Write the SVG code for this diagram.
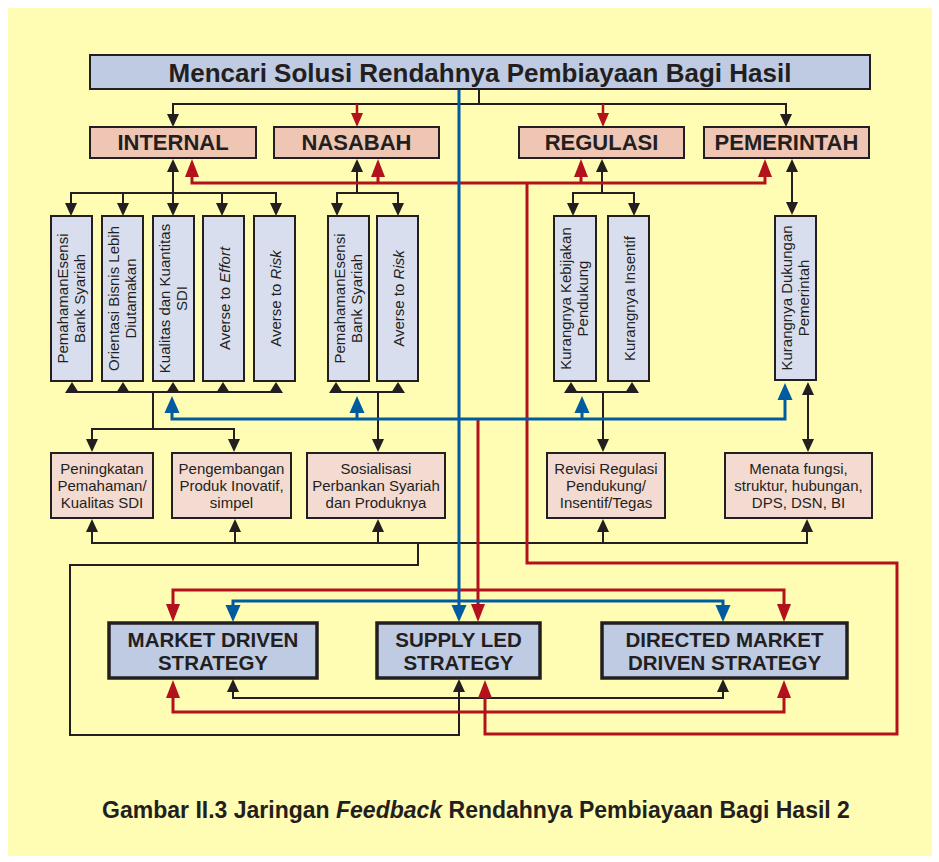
<svg xmlns="http://www.w3.org/2000/svg" xmlns:xlink="http://www.w3.org/1999/xlink" width="939" height="862" viewBox="0 0 939 862">
<style>
.bg{fill:#FFFDB3}
.box{stroke:#231F20;stroke-width:2}
.tb{fill:#BFCBE3}
.hb{fill:#EFC6B4}
.vb{fill:#D9DEEE}
.lb{fill:#F3DBD2}
.sb{fill:#BFCBE3;stroke:#231F20;stroke-width:3.5}
text{font-family:"Liberation Sans",Arial,sans-serif;fill:#231F20}
.t1{font-size:26px;font-weight:bold;text-anchor:middle}
.hd{font-size:22px;font-weight:bold;text-anchor:middle}
.vt{font-size:15px;text-anchor:middle}
.lt{font-size:15px;text-anchor:middle}
.st{font-size:20.5px;font-weight:bold;text-anchor:middle}
.cap{font-size:23px;font-weight:bold;text-anchor:middle}
.ck{fill:none;stroke:#231F20;stroke-width:2}
.cr{fill:none;stroke:#B3121C;stroke-width:3}
.cb{fill:none;stroke:#005BA1;stroke-width:3}
.fk{fill:#231F20}
.fr{fill:#B3121C}
.fb{fill:#005BA1}
</style>
<defs>
<path id="ak" d="M0,0 L-6,-13 L6,-13 Z"/>
<path id="aks" d="M0,0 L-7,-11 L7,-11 Z"/>
<path id="ar" d="M0,0 L-7,-18 L7,-18 Z"/>
<path id="ars" d="M0,0 L-6,-14 L6,-14 Z"/>
<path id="ab" d="M0,0 L-7.5,-17 L7.5,-17 Z"/>
</defs>
<rect class="bg" x="8" y="8" width="924" height="848"/>

<g id="connectors">
<g id="black-lines">
<path class="ck" d="M479,89 V104"/>
<path class="ck" d="M173,115 V104 H786 V115"/>
<path class="ck" d="M173,171 V204"/>
<path class="ck" d="M71,204 V193 H276 V204 M123,193 V204 M222,193 V204"/>
<path class="ck" d="M357,171 V193 M337,204 V193 H398 V204"/>
<path class="ck" d="M602,171 V193 M573,204 V193 H634 V204"/>
<path class="ck" d="M792,171 V203"/>
<path class="ck" d="M72,392 H276 M153,392 V429 M92,440 V429 H234 V440"/>
<path class="ck" d="M336,392 H398 M378,392 V440"/>
<path class="ck" d="M571,392 H632 M603,392 V440"/>
<path class="ck" d="M808,394 V440"/>
<path class="ck" d="M92,531 V543 H807 V531 M235,543 V531 M378,543 V531 M603,543 V531"/>
<path class="ck" d="M418,543 V565 H70 V735 H459 V692"/>
<path class="ck" d="M233,692 V698 H723 V692"/>
</g>
<g id="red-lines">
<path class="cr" d="M357,104 V114 M603,104 V114" style="stroke-width:2.5"/>
<path class="cr" d="M192,176 V183 H765 V176 M378,183 V176 M581,183 V176"/>
<path class="cr" d="M527,183 V563 H897 V734 H485 V697"/>
<path class="cr" d="M478,419 V605 M173,605 V590 H784 V605"/>
<path class="cr" d="M173,697 V712 H784 V697"/>
</g>
<g id="blue-lines">
<path class="cb" d="M459,89 V606"/>
<path class="cb" d="M172,412 V419 H785 V399 M357,419 V412 M582,419 V412"/>
<path class="cb" d="M233,606 V601 H723 V606"/>
</g>
<g id="arrowheads">
<use href="#ak" class="fk" transform="translate(173,127)"/>
<use href="#ak" class="fk" transform="translate(786,127)"/>
<use href="#ars" class="fr" transform="translate(357,127)"/>
<use href="#ars" class="fr" transform="translate(603,127)"/>
<use href="#ak" class="fk" transform="translate(173,159) rotate(180)"/>
<use href="#ak" class="fk" transform="translate(357,159) rotate(180)"/>
<use href="#ak" class="fk" transform="translate(602,159) rotate(180)"/>
<use href="#ak" class="fk" transform="translate(792,159) rotate(180)"/>
<use href="#ar" class="fr" transform="translate(192,159) rotate(180)"/>
<use href="#ar" class="fr" transform="translate(378,159) rotate(180)"/>
<use href="#ar" class="fr" transform="translate(581,159) rotate(180)"/>
<use href="#ar" class="fr" transform="translate(765,159) rotate(180)"/>
<use href="#ak" class="fk" transform="translate(71,216)"/>
<use href="#ak" class="fk" transform="translate(123,216)"/>
<use href="#ak" class="fk" transform="translate(173,216)"/>
<use href="#ak" class="fk" transform="translate(222,216)"/>
<use href="#ak" class="fk" transform="translate(276,216)"/>
<use href="#ak" class="fk" transform="translate(337,216)"/>
<use href="#ak" class="fk" transform="translate(398,216)"/>
<use href="#ak" class="fk" transform="translate(573,216)"/>
<use href="#ak" class="fk" transform="translate(634,216)"/>
<use href="#ak" class="fk" transform="translate(792,215)"/>
<use href="#aks" class="fk" transform="translate(72,382) rotate(180)"/>
<use href="#aks" class="fk" transform="translate(123,382) rotate(180)"/>
<use href="#aks" class="fk" transform="translate(173,382) rotate(180)"/>
<use href="#aks" class="fk" transform="translate(223,382) rotate(180)"/>
<use href="#aks" class="fk" transform="translate(276,382) rotate(180)"/>
<use href="#aks" class="fk" transform="translate(336,382) rotate(180)"/>
<use href="#aks" class="fk" transform="translate(398,382) rotate(180)"/>
<use href="#aks" class="fk" transform="translate(571,382) rotate(180)"/>
<use href="#aks" class="fk" transform="translate(632,382) rotate(180)"/>
<use href="#ak" class="fk" transform="translate(808,382) rotate(180)"/>
<use href="#ab" class="fb" transform="translate(172,396) rotate(180)"/>
<use href="#ab" class="fb" transform="translate(357,396) rotate(180)"/>
<use href="#ab" class="fb" transform="translate(582,396) rotate(180)"/>
<use href="#ab" class="fb" transform="translate(785,383) rotate(180)"/>
<use href="#ak" class="fk" transform="translate(92,452)"/>
<use href="#ak" class="fk" transform="translate(234,452)"/>
<use href="#ak" class="fk" transform="translate(378,452)"/>
<use href="#ak" class="fk" transform="translate(603,452)"/>
<use href="#ak" class="fk" transform="translate(808,452)"/>
<use href="#ak" class="fk" transform="translate(92,519) rotate(180)"/>
<use href="#ak" class="fk" transform="translate(235,519) rotate(180)"/>
<use href="#ak" class="fk" transform="translate(378,519) rotate(180)"/>
<use href="#ak" class="fk" transform="translate(603,519) rotate(180)"/>
<use href="#ak" class="fk" transform="translate(807,519) rotate(180)"/>
<use href="#ar" class="fr" transform="translate(173,622)"/>
<use href="#ar" class="fr" transform="translate(478,622)"/>
<use href="#ar" class="fr" transform="translate(784,622)"/>
<use href="#ab" class="fb" transform="translate(233,622)"/>
<use href="#ab" class="fb" transform="translate(459,622)"/>
<use href="#ab" class="fb" transform="translate(723,622)"/>
<use href="#ak" class="fk" transform="translate(233,679) rotate(180)"/>
<use href="#ak" class="fk" transform="translate(459,679) rotate(180)"/>
<use href="#ak" class="fk" transform="translate(723,679) rotate(180)"/>
<use href="#ar" class="fr" transform="translate(173,680) rotate(180)"/>
<use href="#ar" class="fr" transform="translate(485,680) rotate(180)"/>
<use href="#ar" class="fr" transform="translate(784,680) rotate(180)"/>
</g>
</g>

<g id="title"><rect class="box tb" x="90" y="55" width="780" height="34"/><text class="t1" x="480" y="82">Mencari Solusi Rendahnya Pembiayaan Bagi Hasil</text></g>

<g id="internal"><rect class="box hb" x="90" y="127" width="166" height="31"/><text class="hd" x="173" y="150">INTERNAL</text></g>
<g id="nasabah"><rect class="box hb" x="274" y="127" width="165" height="31"/><text class="hd" x="356.5" y="150">NASABAH</text></g>
<g id="regulasi"><rect class="box hb" x="519" y="127" width="165" height="31"/><text class="hd" x="601.5" y="150">REGULASI</text></g>
<g id="pemerintah"><rect class="box hb" x="704" y="127" width="165" height="31"/><text class="hd" x="786.5" y="150">PEMERINTAH</text></g>

<g id="int-pemahaman"><rect class="box vb" x="51" y="216" width="41" height="165"/><text class="vt" transform="translate(71.5,298.5) rotate(-90)"><tspan x="0" y="-4">PemahamanEsensi</tspan><tspan x="0" y="13">Bank Syariah</tspan></text></g>
<g id="int-orientasi"><rect class="box vb" x="102" y="216" width="41" height="165"/><text class="vt" transform="translate(122.5,298.5) rotate(-90)"><tspan x="0" y="-4">Orientasi Bisnis Lebih</tspan><tspan x="0" y="13">Diutamakan</tspan></text></g>
<g id="int-kualitas"><rect class="box vb" x="153" y="216" width="41" height="165"/><text class="vt" transform="translate(173.5,298.5) rotate(-90)"><tspan x="0" y="-4">Kualitas dan Kuantitas</tspan><tspan x="0" y="13">SDI</tspan></text></g>
<g id="int-effort"><rect class="box vb" x="203" y="216" width="41" height="165"/><text class="vt" transform="translate(223.5,298.5) rotate(-90)" y="6">Averse to <tspan font-style="italic">Effort</tspan></text></g>
<g id="int-risk"><rect class="box vb" x="254" y="216" width="41" height="165"/><text class="vt" transform="translate(274.5,298.5) rotate(-90)" y="6">Averse to <tspan font-style="italic">Risk</tspan></text></g>

<g id="nas-pemahaman"><rect class="box vb" x="328" y="216" width="41" height="165"/><text class="vt" transform="translate(348.5,298.5) rotate(-90)"><tspan x="0" y="-4">PemahamanEsensi</tspan><tspan x="0" y="13">Bank Syariah</tspan></text></g>
<g id="nas-risk"><rect class="box vb" x="377" y="216" width="41" height="165"/><text class="vt" transform="translate(397.5,298.5) rotate(-90)" y="6">Averse to <tspan font-style="italic">Risk</tspan></text></g>

<g id="reg-kebijakan"><rect class="box vb" x="554" y="216" width="42" height="165"/><text class="vt" transform="translate(575,298.5) rotate(-90)"><tspan x="0" y="-4">Kurangnya Kebijakan</tspan><tspan x="0" y="13">Pendukung</tspan></text></g>
<g id="reg-insentif"><rect class="box vb" x="608" y="216" width="41" height="165"/><text class="vt" transform="translate(628.5,298.5) rotate(-90)" y="6">Kurangnya Insentif</text></g>

<g id="pem-dukungan"><rect class="box vb" x="775" y="216" width="41" height="164"/><text class="vt" transform="translate(795.5,298) rotate(-90)"><tspan x="0" y="-4">Kurangnya Dukungan</tspan><tspan x="0" y="13">Pemerintah</tspan></text></g>

<g id="peningkatan"><rect class="box lb" x="51" y="453" width="102" height="65"/><text class="lt" x="102"><tspan x="102" y="474">Peningkatan</tspan><tspan x="102" y="491">Pemahaman/</tspan><tspan x="102" y="508">Kualitas SDI</tspan></text></g>
<g id="pengembangan"><rect class="box lb" x="172" y="453" width="119" height="65"/><text class="lt" x="231.5"><tspan x="231.5" y="474">Pengembangan</tspan><tspan x="231.5" y="491">Produk Inovatif,</tspan><tspan x="231.5" y="508">simpel</tspan></text></g>
<g id="sosialisasi"><rect class="box lb" x="307" y="453" width="138" height="65"/><text class="lt" x="376"><tspan x="376" y="474">Sosialisasi</tspan><tspan x="376" y="491">Perbankan Syariah</tspan><tspan x="376" y="508">dan Produknya</tspan></text></g>
<g id="revisi"><rect class="box lb" x="547" y="453" width="118" height="65"/><text class="lt" x="606"><tspan x="606" y="474">Revisi Regulasi</tspan><tspan x="606" y="491">Pendukung/</tspan><tspan x="606" y="508">Insentif/Tegas</tspan></text></g>
<g id="menata"><rect class="box lb" x="725" y="453" width="147" height="65"/><text class="lt" x="798.5"><tspan x="798.5" y="474">Menata fungsi,</tspan><tspan x="798.5" y="491">struktur, hubungan,</tspan><tspan x="798.5" y="508">DPS, DSN, BI</tspan></text></g>

<g id="market-driven"><rect class="sb" x="109" y="623" width="208" height="55"/><text class="st"><tspan x="213" y="647">MARKET DRIVEN</tspan><tspan x="213" y="670">STRATEGY</tspan></text></g>
<g id="supply-led"><rect class="sb" x="377" y="623" width="163" height="55"/><text class="st"><tspan x="458.5" y="647">SUPPLY LED</tspan><tspan x="458.5" y="670">STRATEGY</tspan></text></g>
<g id="directed-market"><rect class="sb" x="602" y="623" width="245" height="55"/><text class="st"><tspan x="724.5" y="647">DIRECTED MARKET</tspan><tspan x="724.5" y="670">DRIVEN STRATEGY</tspan></text></g>

<text class="cap" x="476" y="818">Gambar II.3 Jaringan <tspan font-style="italic">Feedback</tspan> Rendahnya Pembiayaan Bagi Hasil 2</text>
</svg>
